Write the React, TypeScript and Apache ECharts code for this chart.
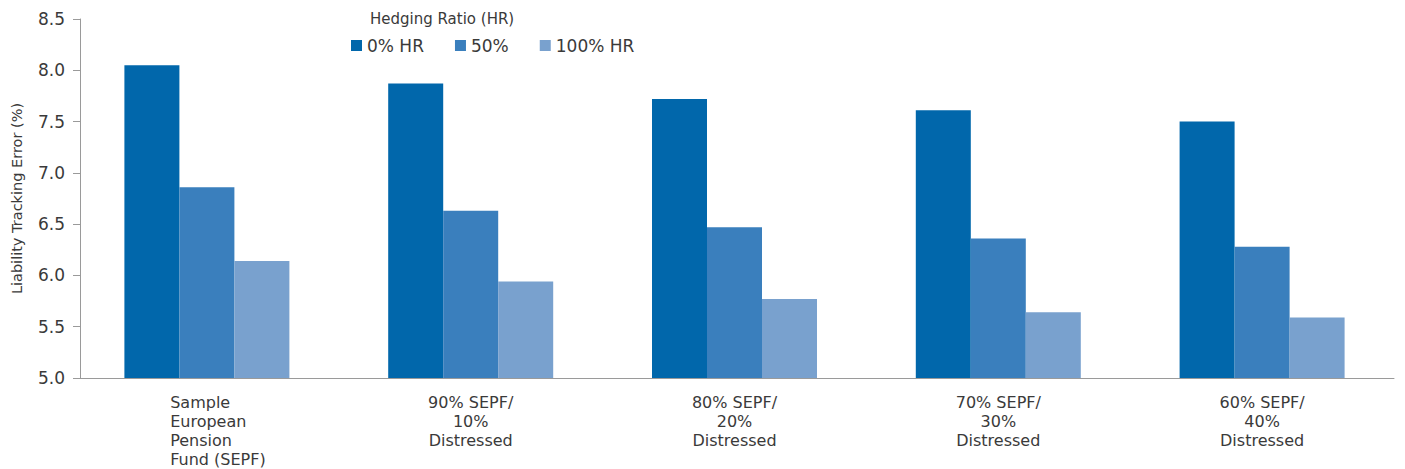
import React, { useEffect, useRef } from "react";
import * as echarts from "echarts";

// Categories (x axis)
const categories = [
  "Sample\nEuropean\nPension\nFund (SEPF)",
  "90% SEPF/\n10%\nDistressed",
  "80% SEPF/\n20%\nDistressed",
  "70% SEPF/\n30%\nDistressed",
  "60% SEPF/\n40%\nDistressed",
];

// Series names (hedging ratio)
const seriesNames = ["0% HR", "50%", "100% HR"];

// Liability tracking error (%) per hedging ratio
const hr0 = [8.05, 7.87, 7.72, 7.61, 7.5];
const hr50 = [6.86, 6.63, 6.47, 6.36, 6.28];
const hr100 = [6.14, 5.94, 5.77, 5.64, 5.59];

const yTicks = [5.0, 5.5, 6.0, 6.5, 7.0, 7.5, 8.0, 8.5];

const colors = ["#0167AB", "#3A7FBD", "#79A1CE"];
const FONT = "DejaVu Sans";
const TEXT = "#3a3a3a";
const AXIS = "#9a9a9a";

export default function App() {
  const ref = useRef<HTMLDivElement>(null);

  useEffect(() => {
    document.body.style.margin = "0";
    if (!ref.current) return;
    const chart = echarts.init(ref.current, null, { renderer: "svg" });

    const xData = categories.map((c, i) =>
      i === 0
        ? {
            value: c,
            textStyle: { padding: [0, 0, 0, 22] },
          }
        : c
    );

    chart.setOption({
      animation: false,
      color: colors,
      textStyle: { fontFamily: FONT },
      title: {
        text: "Hedging Ratio (HR)",
        left: 365,
        top: 6,
        textStyle: { fontFamily: FONT, fontSize: 15, fontWeight: "normal", color: TEXT },
      },
      legend: {
        data: seriesNames,
        left: 346,
        top: 32,
        icon: "rect",
        itemWidth: 11,
        itemHeight: 11,
        itemGap: 31,
        textStyle: { fontFamily: FONT, fontSize: 17, color: TEXT },
      },
      grid: { left: 75, top: 19, width: 1319, height: 364, containLabel: false },
      xAxis: {
        type: "category",
        data: xData,
        axisLine: { lineStyle: { color: AXIS, width: 1 } },
        axisTick: { alignWithLabel: true, length: 7, lineStyle: { color: AXIS } },
        axisLabel: {
          interval: 0,
          margin: 15,
          fontFamily: FONT,
          fontSize: 16,
          lineHeight: 19,
          color: TEXT,
          formatter: (v: string, idx: number) =>
            idx === 0
              ? v
                  .split("\n")
                  .map((l) => `{l|${l}}`)
                  .join("\n")
              : v,
          rich: {
            l: { align: "left", fontFamily: FONT, fontSize: 16, lineHeight: 19, color: TEXT },
          },
        },
      },
      yAxis: {
        type: "value",
        min: yTicks[0],
        max: yTicks[yTicks.length - 1],
        interval: 0.5,
        offset: -5,
        name: "Liability Tracking Error (%)",
        nameLocation: "middle",
        nameRotate: 90,
        nameGap: 56,
        nameTextStyle: { fontFamily: FONT, fontSize: 14.5, color: TEXT },
        axisLine: { show: true, lineStyle: { color: AXIS, width: 1 } },
        axisTick: { show: true, length: 7, lineStyle: { color: AXIS } },
        splitLine: { show: false },
        axisLabel: {
          margin: 15,
          fontFamily: FONT,
          fontSize: 17,
          color: TEXT,
          formatter: (v: number) => v.toFixed(1),
        },
      },
      series: [hr0, hr50, hr100].map((d, i) => ({
        name: seriesNames[i],
        type: "bar",
        data: d,
        barWidth: 55,
        barGap: "0%",
        itemStyle: { color: colors[i] },
      })),
    });

    return () => chart.dispose();
  }, []);

  return <div ref={ref} style={{ width: 1405, height: 469 }} />;
}
